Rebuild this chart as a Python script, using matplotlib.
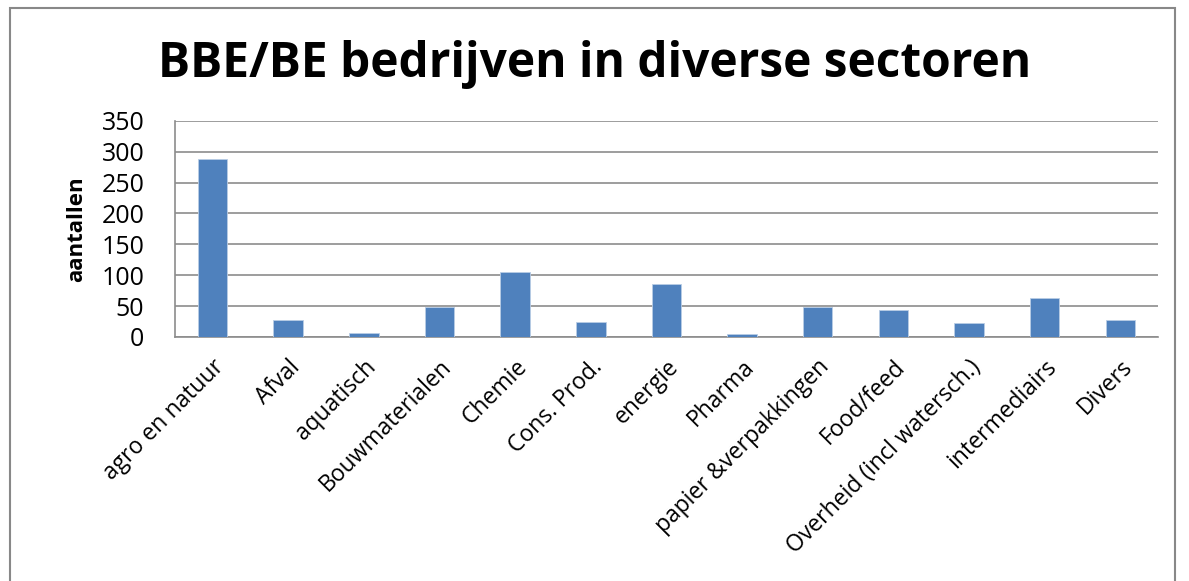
import matplotlib.pyplot as plt
from matplotlib.patches import Rectangle
import numpy as np

plt.rcParams['font.family'] = ['Open Sans', 'DejaVu Sans']

sectoren = ['agro en natuur', 'Afval', 'aquatisch', 'Bouwmaterialen', 'Chemie',
            'Cons. Prod.', 'energie', 'Pharma', 'papier &verpakkingen', 'Food/feed',
            'Overheid (incl watersch.)', 'intermediairs', 'Divers']
aantallen = [288, 28, 7, 49, 105, 24, 86, 5, 49, 43, 22, 63, 28]
y_ticks = [0, 50, 100, 150, 200, 250, 300, 350]

fig = plt.figure(figsize=(11.89, 5.81), dpi=100)
# kader rond de grafiek
fig.patches.append(Rectangle((10 / 1189, -0.01), 1165 / 1189, 1.0 - 8 / 581 + 0.01,
                             transform=fig.transFigure, fill=False,
                             edgecolor='#888888', linewidth=1.5))

ax = fig.add_axes([0.147, 0.42, 0.827, 0.372])
x = np.arange(len(sectoren))
ax.bar(x, aantallen, width=0.39, color='#4f81bd', edgecolor='#b9cde5', linewidth=0.6, zorder=3)

ax.set_xlim(-0.5, len(sectoren) - 0.5)
ax.set_ylim(0, 350)
ax.set_yticks(y_ticks)
ax.set_yticklabels([str(v) for v in y_ticks], fontsize=18)
ax.set_xticks(x)
ax.set_xticklabels(sectoren, rotation=45, ha='right', rotation_mode='anchor', fontsize=16.5)
ax.tick_params(axis='y', length=0, pad=22)
ax.tick_params(axis='x', length=0, pad=13)
ax.grid(axis='y', color='#8c8c8c', linewidth=1.2, zorder=0)

for side in ['top', 'right']:
    ax.spines[side].set_visible(False)
ax.spines['left'].set_color('#8c8c8c')
ax.spines['bottom'].set_color('#8c8c8c')
ax.spines['left'].set_linewidth(1.2)
ax.spines['bottom'].set_linewidth(1.2)

ax.set_ylabel('aantallen', fontsize=16, fontweight='bold', labelpad=10)

fig.text(0.5, 0.889, 'BBE/BE bedrijven in diverse sectoren', ha='center', va='center',
         fontsize=34.5, fontweight='bold')

fig.savefig('out.png', dpi=100)
